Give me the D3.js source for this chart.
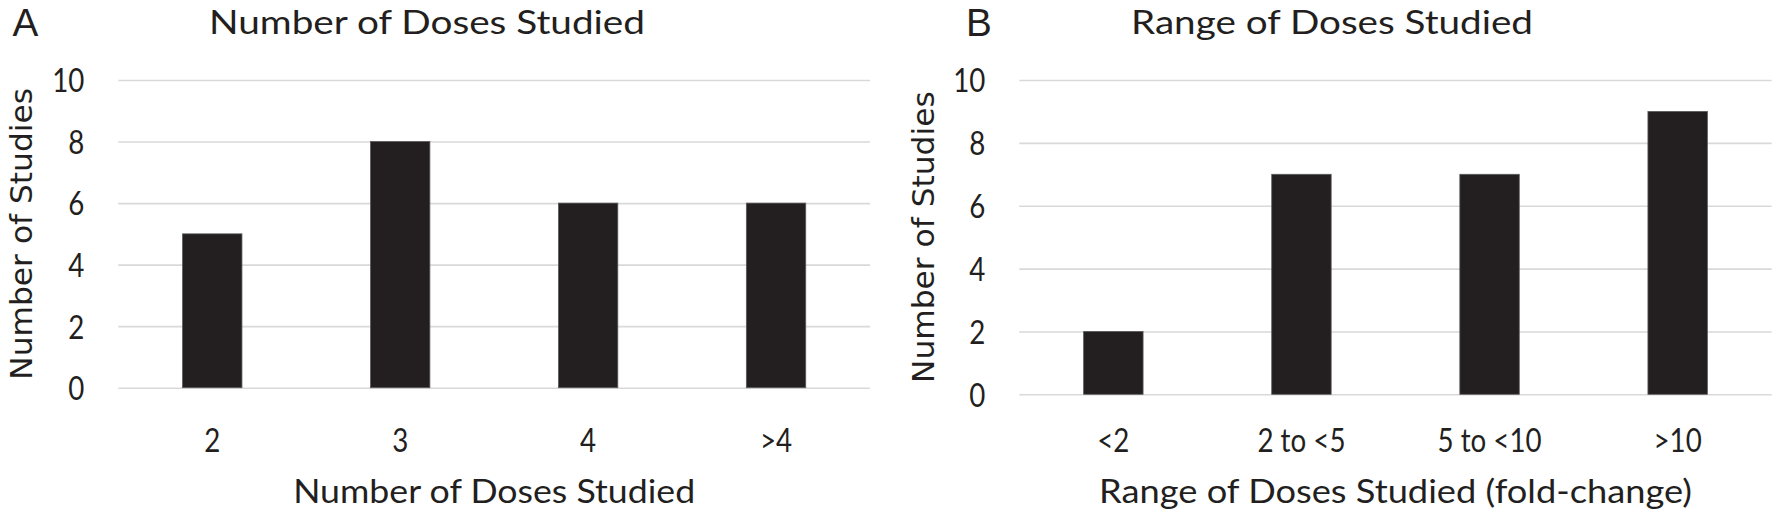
<!DOCTYPE html>
<html><head><meta charset="utf-8">
<script src="https://cdn.jsdelivr.net/npm/d3@7"></script>
<style>body{margin:0;background:#fff}svg{display:block}</style>
</head><body><svg id="c" width="1776" height="512"></svg>
<script>
// ---- data ----
const dosesCategories = ["2", "3", "4", ">4"];
const dosesValues = [5, 8, 6, 6];
const rangeCategories = ["<2", "2 to <5", "5 to <10", ">10"];
const rangeValues = [2, 7, 7, 9];
const yTicks = [0, 2, 4, 6, 8, 10];
const yDomain = [0, 10];
const panelLetters = ["A", "B"];
const chartTitles = ["Number of Doses Studied", "Range of Doses Studied"];
const xTitles = ["Number of Doses Studied", "Range of Doses Studied (fold-change)"];
const yTitle = "Number of Studies";

const svg = d3.select("#c");
const ink = "#231f20";
const mainFont = "Lato, 'Open Sans', sans-serif";

function fitText(sel, w) {
  sel.attr("textLength", w).attr("lengthAdjust", "spacingAndGlyphs");
}
function condense(sel, k) {
  sel.each(function () {
    const n = this.getComputedTextLength();
    d3.select(this).attr("textLength", n * k).attr("lengthAdjust", "spacingAndGlyphs");
  });
}

function drawPanel(cfg) {
  const g = svg.append("g");
  const x = d3.scaleBand().domain(cfg.categories)
    .range([cfg.x0, cfg.x1]).paddingInner(0.684).paddingOuter(0.342);
  const y = d3.scaleLinear().domain(yDomain).range([cfg.y0, cfg.y1]);

  // gridlines
  const grid = g.append("g").attr("transform", `translate(${cfg.x0},0)`)
    .call(d3.axisLeft(y).tickValues(yTicks).tickSize(-(cfg.x1 - cfg.x0)).tickFormat(""));
  grid.select(".domain").remove();
  grid.selectAll(".tick line").attr("stroke", "#d9d9d9").attr("stroke-width", 1.6);

  // y tick labels
  const ya = g.append("g").attr("transform", `translate(${cfg.x0},0)`)
    .call(d3.axisLeft(y).tickValues(yTicks).tickSize(0).tickPadding(34));
  ya.select(".domain").remove();
  ya.selectAll("text").attr("font-family", mainFont).attr("font-size", 33)
    .attr("fill", ink).attr("dy", "0.36em").call(condense, 0.84);

  // bars
  g.selectAll("rect.bar").data(cfg.values).enter().append("rect")
    .attr("class", "bar")
    .attr("x", (d, i) => x(cfg.categories[i]))
    .attr("width", x.bandwidth())
    .attr("y", d => y(d))
    .attr("height", d => y(0) - y(d))
    .attr("fill", ink)
    .attr("stroke", "#5a5a5a").attr("stroke-width", 0.8);

  // x tick labels
  const xa = g.append("g").attr("transform", `translate(0,${cfg.y0})`)
    .call(d3.axisBottom(x).tickSize(0));
  xa.select(".domain").remove();
  xa.selectAll("text").attr("font-family", mainFont).attr("font-size", 33)
    .attr("fill", ink).attr("dy", 0).attr("y", 452 - cfg.y0).call(condense, 0.84);

  // titles
  const t = g.append("text").attr("x", cfg.titleCx).attr("y", 33.5)
    .attr("text-anchor", "middle").attr("font-family", mainFont)
    .attr("font-size", 32.5).attr("fill", ink).text(cfg.title);
  fitText(t, cfg.titleW);

  const xt = g.append("text").attr("x", (cfg.x0 + cfg.x1) / 2).attr("y", 503)
    .attr("text-anchor", "middle").attr("font-family", mainFont)
    .attr("font-size", 32).attr("fill", ink).text(cfg.xTitle);
  fitText(xt, cfg.xTitleW);

  const cy = (cfg.y0 + cfg.y1) / 2;
  const yt = g.append("text")
    .attr("transform", `translate(${cfg.yTitleX},${cy}) rotate(-90)`)
    .attr("text-anchor", "middle").attr("font-family", "'DejaVu Sans', sans-serif")
    .attr("font-size", 30.5).attr("fill", ink).text(yTitle);
  fitText(yt, 291.7);

  g.append("text").attr("x", cfg.letterX).attr("y", 36)
    .attr("font-family", "'Liberation Sans', Arial, sans-serif")
    .attr("font-size", 38.7).attr("fill", ink).text(cfg.letter);
}

drawPanel({
  categories: dosesCategories, values: dosesValues,
  x0: 118.3, x1: 870, y0: 387.7, y1: 80,
  title: chartTitles[0], titleCx: 427, titleW: 436,
  xTitle: xTitles[0], xTitleW: 402,
  yTitleX: 32.3, letter: panelLetters[0], letterX: 12.5
});
drawPanel({
  categories: rangeCategories, values: rangeValues,
  x0: 1019.3, x1: 1771.7, y0: 394.3, y1: 80,
  title: chartTitles[1], titleCx: 1332, titleW: 402,
  xTitle: xTitles[1], xTitleW: 593,
  yTitleX: 934, letter: panelLetters[1], letterX: 966
});
</script></body></html>
